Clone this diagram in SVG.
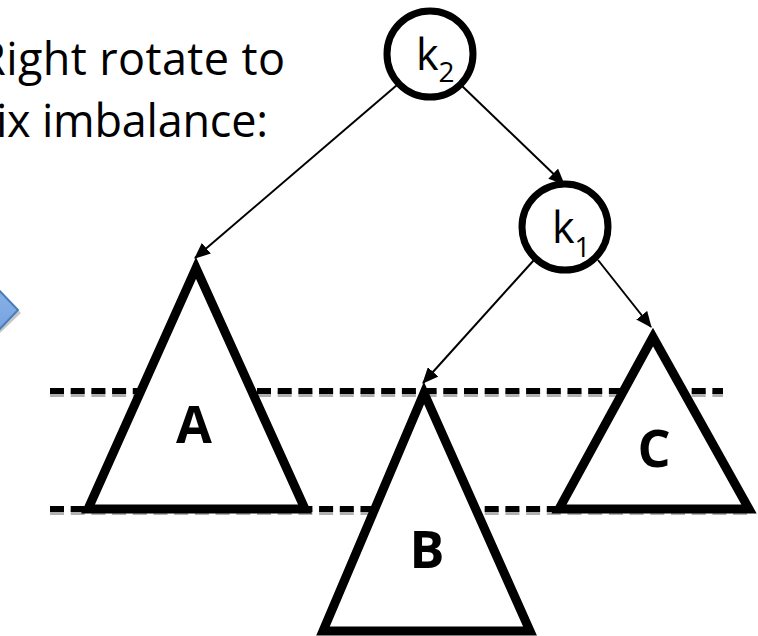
<svg xmlns="http://www.w3.org/2000/svg" width="758" height="636" viewBox="0 0 758 636">
<defs>
<linearGradient id="blueGrad" x1="0" y1="0" x2="0" y2="1">
<stop offset="0" stop-color="#a3c4f0"/>
<stop offset="1" stop-color="#5c8fd6"/>
</linearGradient>
<marker id="arr" markerUnits="userSpaceOnUse" markerWidth="16" markerHeight="14" refX="15" refY="7" orient="auto">
<path d="M0,0 L16,7 L0,14 Z" fill="#000"/>
</marker>
</defs>
<style>
.cap{font-family:"Open Sans","Liberation Sans",sans-serif;font-size:45px;fill:#000}
.key{font-family:"Open Sans","Liberation Sans",sans-serif;font-size:43px;fill:#000}
.sub{font-size:28px}
.lbl{font-family:"Open Sans","Liberation Sans",sans-serif;font-weight:bold;font-size:52px;fill:#000;text-anchor:middle}
.node{fill:#fff;stroke:#000;stroke-width:7}
.tri{fill:#fff;stroke:#000;stroke-width:9;stroke-linejoin:miter;stroke-miterlimit:10}
.edge{stroke:#000;stroke-width:2;fill:none;marker-end:url(#arr)}
.dash{stroke:#000;stroke-width:6;stroke-dasharray:14 6.7;fill:none}
.dshadow{stroke:#b0b0b0;stroke-width:6;stroke-dasharray:14 6.7;fill:none}
</style>
<rect width="758" height="636" fill="#fff"/>
<g id="caption">
<text class="cap" x="-22" y="75" textLength="307" lengthAdjust="spacing">Right rotate to</text>
<text class="cap" x="-27" y="137" textLength="295" lengthAdjust="spacing">Fix imbalance:</text>
</g>
<g id="blue-arrow">
<polygon points="-60,236 21,313 -60,390" fill="#a0a0a0" opacity="0.6"/>
<polygon points="-60,229 18,310 -60,391" fill="url(#blueGrad)" stroke="#4a7ebb" stroke-width="2"/>
</g>
<g id="levels">
<line class="dshadow" x1="50" y1="394" x2="723" y2="394"/>
<line class="dash" x1="50" y1="391" x2="723" y2="391"/>
<line class="dshadow" x1="50" y1="512" x2="752" y2="512"/>
<line class="dash" x1="50" y1="509" x2="752" y2="509"/>
</g>
<g id="connectors">
<line class="edge" x1="397" y1="85" x2="195" y2="258"/>
<line class="edge" x1="461" y1="85" x2="564" y2="184"/>
<line class="edge" x1="534" y1="260" x2="423" y2="383"/>
<line class="edge" x1="598" y1="260" x2="651" y2="327"/>
</g>
<g id="node-A">
<polygon class="tri" points="196,268 88,509 305,509"/>
<text class="lbl" x="194" y="443">A</text>
</g>
<g id="node-B">
<polygon class="tri" points="424,393 323,631 530,631"/>
<text class="lbl" x="427" y="568">B</text>
</g>
<g id="node-C">
<polygon class="tri" points="653,337 559,509 749,509"/>
<text class="lbl" x="654" y="467">C</text>
</g>
<g id="node-k2">
<circle class="node" cx="430" cy="54" r="43"/>
<text class="key" x="416" y="70">k<tspan class="sub" dy="12">2</tspan></text>
</g>
<g id="node-k1">
<circle class="node" cx="565" cy="227" r="43"/>
<text class="key" x="552" y="243">k<tspan class="sub" dy="14">1</tspan></text>
</g>
</svg>
